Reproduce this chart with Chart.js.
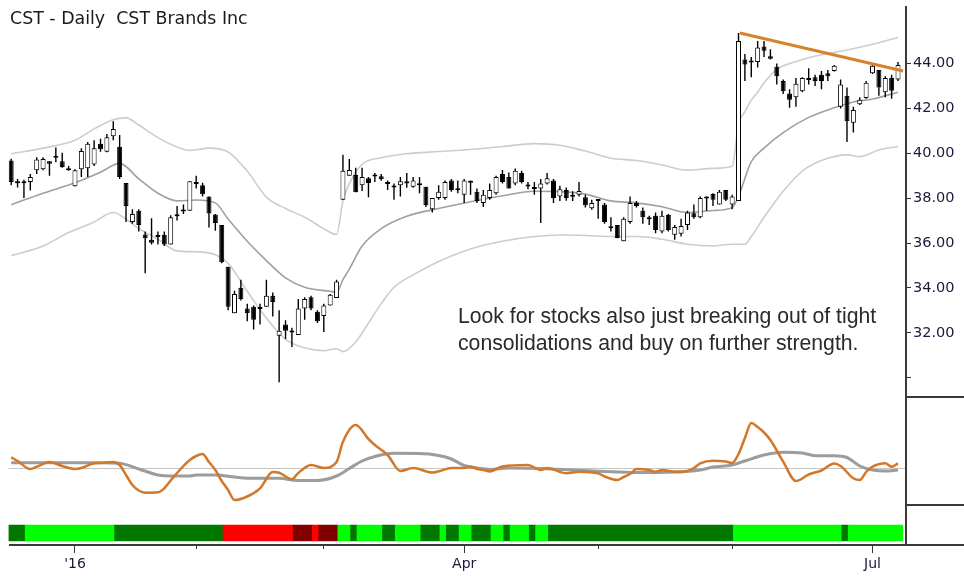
<!DOCTYPE html>
<html>
<head>
<meta charset="utf-8">
<script src="https://cdn.jsdelivr.net/npm/chart.js@4"></script>
<style>
  html, body { margin: 0; padding: 0; background: #fff; }
  #wrap { position: relative; width: 964px; height: 578px; overflow: hidden; }
  canvas { position: absolute; left: 0; }
  .ln { position: absolute; background: #3a3a3a; }
  #title { position: absolute; left: 10px; top: 8px; font: 17.4px "DejaVu Sans"; color: #1a1a1a; white-space: pre; }
  #note { position: absolute; left: 458px; top: 302px; font: 21.2px "Liberation Sans"; color: #2a2a2a; line-height: 27px; white-space: pre; }
</style>
</head>
<body>
<div id="wrap">
  <canvas id="cp" width="964" height="398" style="top:0"></canvas>
  <canvas id="ci" width="964" height="108" style="top:397px"></canvas>
  <canvas id="cs" width="964" height="73" style="top:505px"></canvas>
  <div class="ln" style="left:905px;top:6px;width:2px;height:540px"></div>
  <div class="ln" style="left:9px;top:544px;width:955px;height:2px"></div>
  <div class="ln" style="left:906px;top:396px;width:58px;height:2px"></div>
  <div class="ln" style="left:906px;top:504px;width:58px;height:2px"></div>
  <div id="title">CST - Daily  CST Brands Inc</div>
  <div id="note">Look for stocks also just breaking out of tight
consolidations and buy on further strength.</div>
</div>
<script>
// =======================================================
// === DATOS (daily bars, 17 Dec 2015 -> 8 Jul 2016) ===
// =======================================================
const opens = [39.68,38.71,38.71,38.72,39.25,39.29,39.65,39.85,39.65,39.33,
  38.53,39.29,39.33,39.50,40.43,40.07,40.76,40.29,38.68,36.94,
  37.44,36.38,36.15,36.32,36.37,35.94,37.19,37.45,37.44,38.63,
  38.58,38.08,37.27,36.80,34.94,32.87,34.01,33.08,33.16,33.06,
  33.16,33.65,31.87,32.37,32.06,31.90,33.08,33.58,32.94,32.75,
  33.22,33.55,37.93,39.00,39.03,38.58,38.89,39.01,38.98,38.67,
  38.52,38.58,38.75,38.51,38.63,38.51,37.51,38.01,38.01,38.79,
  38.39,38.15,38.73,38.29,37.79,38.01,38.22,39.08,38.94,38.65,
  39.12,38.56,38.45,38.43,38.65,38.79,38.08,38.36,38.10,38.15,
  38.04,37.55,37.91,37.72,36.70,36.80,36.08,36.94,37.79,37.44,
  37.10,37.22,36.51,37.25,36.37,36.41,36.80,37.33,37.15,38.03,
  38.19,37.72,38.36,37.72,37.87,44.18,44.09,44.07,44.76,44.33,
  43.86,43.22,42.67,42.50,42.76,43.27,43.39,43.50,43.57,43.67,
  42.07,42.57,41.36,42.19,42.47,43.57,43.71,42.72,43.36,43.29];
const highs = [39.76,38.86,38.82,39.08,39.82,39.82,39.66,40.26,40.03,39.43,
  39.29,40.22,40.50,40.58,40.65,40.86,41.43,40.82,38.68,37.51,
  37.51,36.51,37.11,36.51,36.51,37.24,37.65,37.72,38.75,39.00,
  38.69,38.08,37.29,36.80,34.94,33.87,34.37,33.30,33.22,33.30,
  34.37,33.80,33.01,32.56,32.23,33.51,33.58,33.65,33.01,33.30,
  33.73,34.37,39.93,39.75,39.36,39.36,38.94,39.12,39.08,38.79,
  38.65,38.94,39.12,38.94,38.94,38.51,38.01,38.58,38.79,38.86,
  38.79,38.86,38.79,38.43,38.36,38.65,39.00,39.26,39.15,39.32,
  39.22,38.72,38.72,38.86,39.12,38.86,38.55,38.48,38.31,38.72,
  38.15,37.93,37.93,37.79,37.15,36.80,37.15,38.08,37.87,37.58,
  37.22,37.36,37.44,37.29,36.80,37.08,37.44,37.72,38.08,38.08,
  38.22,38.36,38.36,38.15,45.36,44.43,44.29,45.00,45.00,44.64,
  44.00,43.29,42.86,43.36,43.39,43.79,43.50,43.67,43.71,43.93,
  43.29,42.93,42.07,42.50,43.22,44.00,43.71,43.43,43.50,44.07];
const lows = [38.58,38.48,38.01,38.34,39.08,39.25,39.00,39.60,39.36,39.22,
  38.52,38.94,38.94,39.43,40.07,40.05,40.58,38.86,36.94,36.86,
  36.51,34.65,35.94,35.94,35.87,35.94,37.01,37.29,37.44,38.43,
  38.08,36.69,36.55,35.10,33.01,32.87,33.44,32.51,32.15,32.37,
  33.16,32.73,29.80,31.73,31.37,31.90,32.58,33.01,32.44,32.04,
  33.22,33.55,37.93,39.00,38.26,38.32,38.04,38.72,38.78,38.36,
  37.93,38.08,38.46,38.46,38.22,37.61,37.36,37.93,37.93,38.29,
  38.22,37.79,38.15,37.79,37.61,37.93,38.15,38.65,38.43,38.58,
  38.65,38.40,38.15,36.89,38.61,37.79,37.87,37.88,37.87,38.08,
  37.58,37.49,37.08,36.86,36.51,36.21,36.08,36.86,37.58,36.86,
  36.80,36.44,36.44,36.51,36.15,36.29,36.58,37.08,37.11,37.44,
  37.65,37.72,37.87,37.51,37.87,43.22,43.39,43.82,44.29,44.18,
  43.07,42.64,42.03,42.07,42.72,43.07,43.00,42.86,43.22,43.64,
  42.00,40.50,40.93,42.15,42.43,43.53,42.57,42.50,42.43,43.22];
const closes = [38.72,38.67,38.67,38.94,39.72,39.75,39.53,39.80,39.39,39.25,
  39.25,40.10,40.43,40.22,40.18,40.72,41.08,38.94,37.65,37.29,
  36.80,36.21,36.01,36.27,35.94,37.15,37.24,37.41,38.75,38.67,
  38.18,37.32,36.89,35.15,33.16,33.73,33.51,32.87,32.58,33.10,
  33.65,33.37,32.09,32.09,32.01,33.08,33.51,33.08,32.51,33.22,
  33.70,34.29,39.22,39.26,38.26,38.94,38.68,38.97,38.86,38.63,
  38.48,38.76,38.65,38.79,38.58,37.69,38.01,38.29,38.72,38.36,
  38.35,38.79,38.69,37.87,38.15,38.36,38.94,38.72,38.43,39.22,
  38.72,38.52,38.41,38.65,38.89,38.01,38.40,38.01,38.06,38.32,
  37.69,37.79,37.87,36.94,36.66,36.22,37.08,37.79,37.65,37.15,
  37.06,36.58,37.22,36.58,36.72,36.76,37.36,37.15,38.01,37.99,
  37.93,38.29,37.93,38.08,45.00,43.96,44.05,44.71,44.57,44.21,
  43.43,42.76,42.39,43.10,43.36,43.31,43.22,43.22,43.43,43.90,
  43.07,41.43,41.93,42.39,43.14,43.90,42.93,43.36,42.79,43.93];

const upperIdx = [0,5,10,13,16,18,20,23,26,28,31,34,37,40,43,46,49,51,52,53,55,58,62,67,72,77,82,86,90,94,98,102,106,110,113,114,115,116,117,118,120,123,127,131,135,139];
const upperVal = [39.98,40.23,40.58,41.09,41.50,41.58,41.26,40.70,40.28,40.13,40.23,40.06,39.21,38.05,37.54,37.15,36.64,36.38,37.88,38.65,39.51,39.80,39.98,40.08,40.17,40.30,40.43,40.36,40.10,39.78,39.68,39.48,39.25,39.33,39.42,41.30,41.86,42.37,42.72,43.14,43.74,44.09,44.39,44.60,44.86,45.16];
const midIdx = [0,5,10,14,17,20,23,26,29,32,34,37,40,43,46,50,51,52,53,55,58,62,67,72,77,82,86,90,94,98,102,106,110,113,114,116,118,121,125,129,132,135,139];
const midVal = [37.71,38.22,38.69,39.16,39.55,38.86,38.22,37.88,37.92,37.79,37.07,36.08,35.22,34.45,34.03,33.85,33.81,34.37,34.84,35.87,36.64,37.19,37.54,37.84,38.11,38.31,38.29,38.18,37.88,37.79,37.62,37.36,37.45,37.58,38.09,39.63,40.23,40.92,41.60,42.03,42.29,42.42,42.72];
const lowIdx = [0,5,9,13,16,18,20,23,26,29,32,34,37,40,43,46,49,51,52,54,56,58,60,63,67,72,77,82,86,90,94,98,102,106,110,113,115,116,118,121,124,127,131,133,136,139];
const lowVal = [35.44,35.87,36.47,36.94,37.36,37.07,36.64,36.17,35.65,35.61,35.48,35.10,33.85,32.66,31.71,31.33,31.20,31.29,31.16,31.59,32.44,33.30,34.03,34.58,35.18,35.74,36.08,36.29,36.36,36.34,36.29,36.29,36.17,35.95,35.87,35.95,35.95,36.29,37.15,38.31,39.21,39.68,39.93,39.85,40.15,40.30];

// Linea de tendencia (naranja)
const trendIdx = [114.2, 139.8];
const trendVal = [45.36, 43.67];

// Oscilador (panel inferior)
const oscIdx = [0,1,3,4,6,8,10,11,13,14,16,17,18,19,20,21,23,24,25,27,28,29,30,31,32,33,34,35,37,39,41,42,44,45,47,49,51,52,54,56,57,59,61,63,66,67,69,71,72,73,74,75,77,81,83,84,87,89,92,93,95,96,97,98,100,101,102,104,105,107,108,110,112,113,114,115,116,117,118,119,121,123,125,127,129,130,132,133,134,135,137,138,139];
const oscVal = [10.7,7,-1,1.3,6,2,-1,0,4.7,5,6,3,-7,-17,-22.5,-24.7,-24.3,-20.3,-12.5,2,8,12,14,6,-2,-13,-22,-32,-28.5,-20.3,-4,-4.7,-11.3,-5,3,0,6,26.3,43,29,23,13,-3,0,-4.5,-3.3,0,0,1.3,-1,-2,-3.5,1.5,3,-2,0,-5.3,-3.7,-5.3,-8.5,-12,-9,-6,-1,-2,-3.7,-2,-3.7,-4,0,4.7,7.3,6.5,5,14,30,45,41,35.5,28,6.3,-13,-6.5,-2.5,4.5,2,-10.3,-12,-4,1.3,4.7,1.3,4.7];
const sigIdx = [0,14,17,20,23,25,28,29,32,35,37,42,45,48,51,53,55,57,60,64,67,69,71,73,75,78,83,88,93,98,104,108,110,113,115,118,121,124,126,129,131,133,135,137,139];
const sigVal = [5.3,5.3,4.7,-1,-7,-8,-8,-7,-7,-9,-10.3,-10.3,-12.5,-12.5,-8,-0.5,7,11.5,14.7,14.5,12.5,9,2.5,0,-1.5,0,-0.5,-2,-3.5,-4.5,-4,-2,1,3,7,13,15.7,15,12.3,12.3,10.5,2,-2,-3,-2];

// Barra de color (bordes en unidades de barra)
const stripEdges = [-0.42,2.2,16.2,33.2,44.2,47.2,48.2,51.2,53.2,54.2,58.2,60.2,64.2,67.2,68.2,70.2,72.2,75.2,77.2,78.2,81.2,82.2,84.2,113.2,130.2,131.2,139.75];
const stripColors = ['#007800','#00ff00','#007800','#ff0000','#800000','#ff0000','#800000','#00ff00','#007800','#00ff00',
  '#007800','#00ff00','#007800','#00ff00','#007800','#00ff00','#007800','#00ff00','#007800','#00ff00',
  '#007800','#00ff00','#007800','#00ff00','#007800','#00ff00'];

// Eje X: inicio de mes
const monthTicks = [10, 29, 49, 71, 92, 113, 135];
const monthLabels = ["'16", '', '', 'Apr', '', '', 'Jul'];

// Eje Y
const priceTicks = [30, 32, 34, 36, 38, 40, 42, 44];

// =======================================================
// === CONFIG COMUN ===
// =======================================================
const X_MIN = -0.42, X_MAX = 140.25;
const AXIS_W = 58;
const labelColor = '#1a1a3a';
Chart.defaults.font.family = 'DejaVu Sans';

const pts = (idx, val) => idx.map((x, k) => ({ x: x, y: val[k] }));
const bodyPts = closes.map((c, i) => ({ x: i, y: [opens[i], c] }));
const wickPts = closes.map((c, i) => ({ x: i, y: [lows[i], highs[i]] }));
const bodyFill = closes.map((c, i) => c >= opens[i] ? '#ffffff' : '#000000');

const xHidden = { type: 'linear', min: X_MIN, max: X_MAX, offset: false, display: false };

// --- PRECIO ---
new Chart(document.getElementById('cp'), {
  type: 'bar',
  data: {
    datasets: [
      { type: 'line', data: pts(trendIdx, trendVal), borderColor: '#d9822b', borderWidth: 3, pointRadius: 0, order: 0 },
      { type: 'bar', data: bodyPts, backgroundColor: bodyFill, borderColor: '#000', borderWidth: 1, borderSkipped: false,
        barThickness: 5, minBarLength: 2, grouped: false, inflateAmount: 0, order: 1 },
      { type: 'bar', data: wickPts, backgroundColor: '#000', borderWidth: 0, barThickness: 1.4, grouped: false, inflateAmount: 0, order: 2 },
      { type: 'line', data: pts(midIdx, midVal), borderColor: '#a0a0a0', borderWidth: 1.6, pointRadius: 0, cubicInterpolationMode: 'monotone', order: 3 },
      { type: 'line', data: pts(upperIdx, upperVal), borderColor: '#cdcdcd', borderWidth: 1.6, pointRadius: 0, cubicInterpolationMode: 'monotone', order: 4 },
      { type: 'line', data: pts(lowIdx, lowVal), borderColor: '#cdcdcd', borderWidth: 1.6, pointRadius: 0, cubicInterpolationMode: 'monotone', order: 5 }
    ]
  },
  options: {
    responsive: false, animation: false, devicePixelRatio: 1, events: [],
    layout: { padding: { left: 8.5, top: 5, bottom: 1, right: 0 } },
    plugins: { legend: { display: false }, tooltip: { enabled: false } },
    scales: {
      x: xHidden,
      y: {
        position: 'right', min: 29.572, max: 46.355,
        afterBuildTicks: s => { s.ticks = priceTicks.map(v => ({ value: v })); },
        afterFit: s => { s.width = AXIS_W; },
        ticks: { callback: v => v === 30 ? '' : v.toFixed(2), color: labelColor, font: { size: 14.5 }, padding: 2 },
        grid: { drawOnChartArea: false, drawTicks: true, tickLength: 5, color: '#333' },
        border: { display: false }
      }
    }
  }
});

// --- OSCILADOR ---
new Chart(document.getElementById('ci'), {
  type: 'line',
  data: {
    datasets: [
      { data: pts(oscIdx, oscVal), borderColor: '#d2782a', borderWidth: 2.5, pointRadius: 0, cubicInterpolationMode: 'monotone', order: 0 },
      { data: pts(sigIdx, sigVal), borderColor: '#9c9c9c', borderWidth: 3, pointRadius: 0, cubicInterpolationMode: 'monotone', order: 1 }
    ]
  },
  options: {
    responsive: false, animation: false, devicePixelRatio: 1, events: [],
    layout: { padding: { left: 8.5, top: 0, bottom: 0, right: 0 } },
    plugins: { legend: { display: false }, tooltip: { enabled: false } },
    scales: {
      x: xHidden,
      y: {
        position: 'right', min: -37, max: 71,
        afterBuildTicks: s => { s.ticks = [{ value: 0 }]; },
        afterFit: s => { s.width = AXIS_W; },
        ticks: { display: false },
        grid: { drawTicks: false, color: '#c4c4c4', lineWidth: 1 },
        border: { display: false }
      }
    }
  }
});

// --- BARRA DE COLOR + EJE DE FECHAS ---
new Chart(document.getElementById('cs'), {
  type: 'bar',
  data: {
    labels: ['strip'],
    datasets: [{
      data: stripColors.map((c, k) => ({ x: [stripEdges[k], stripEdges[k + 1]], y: 'strip' })),
      backgroundColor: stripColors, borderWidth: 0, barThickness: 16, grouped: false
    }]
  },
  options: {
    indexAxis: 'y',
    responsive: false, animation: false, devicePixelRatio: 1, events: [],
    layout: { padding: { left: 8.5, top: 16, bottom: 0, right: AXIS_W } },
    plugins: { legend: { display: false }, tooltip: { enabled: false } },
    scales: {
      y: { type: 'category', display: false },
      x: {
        type: 'linear', position: 'bottom', min: X_MIN, max: X_MAX, offset: false,
        afterBuildTicks: s => { s.ticks = monthTicks.map(v => ({ value: v })); },
        afterFit: s => { s.height = 33; },
        ticks: {
          autoSkip: false, maxRotation: 0, padding: 3, color: labelColor, font: { size: 14 },
          callback: v => monthLabels[monthTicks.indexOf(v)]
        },
        grid: {
          drawOnChartArea: false, drawTicks: true, tickLength: 8, color: '#333',
          tickBorderDash: c => (c.tick && monthLabels[monthTicks.indexOf(c.tick.value)]) ? [] : [4, 20]
        },
        border: { display: false }
      }
    }
  }
});
</script>
</body>
</html>
